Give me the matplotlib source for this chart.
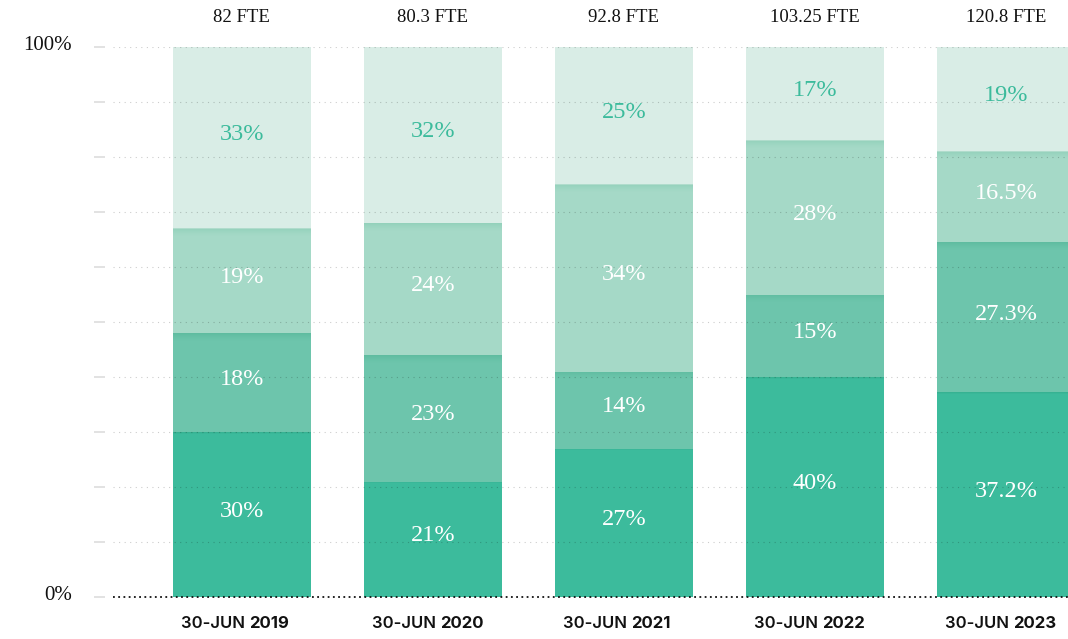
import matplotlib.pyplot as plt
from matplotlib.transforms import blended_transform_factory, offset_copy

# -----------------------------
# Data
# -----------------------------
dates = ["30-JUN", "30-JUN", "30-JUN", "30-JUN", "30-JUN"]
years = ["2019", "2020", "2021", "2022", "2023"]
fte = ["82 FTE", "80.3 FTE", "92.8 FTE", "103.25 FTE", "120.8 FTE"]

# shares per group, stacked bottom to top
seg1 = [30, 21, 27, 40, 37.2]
seg2 = [18, 23, 14, 15, 27.3]
seg3 = [19, 24, 34, 28, 16.5]
seg4 = [33, 32, 25, 17, 19]

seg_labels = [
    ["30%", "21%", "27%", "40%", "37.2%"],
    ["18%", "23%", "14%", "15%", "27.3%"],
    ["19%", "24%", "34%", "28%", "16.5%"],
    ["33%", "32%", "25%", "17%", "19%"],
]

colors = ["#3cbb9c", "#6dc5ac", "#a5d9c7", "#d9ede6"]
shade = ["#2fa886", "#4fb393", "#7fc8ae"]
label_colors = ["white", "white", "white", "#3cbb9c"]

serif = "Liberation Serif"
sans = "Inter"

# -----------------------------
# Figure
# -----------------------------
fig = plt.figure(figsize=(10.68, 6.39), dpi=100)
ax = fig.add_axes([113 / 1068, 42 / 639, 955 / 1068, 550 / 639])

x = list(range(len(years)))
width = 0.723
segments = [seg1, seg2, seg3, seg4]
bottoms = [0] * len(x)

for i, seg in enumerate(segments):
    ax.bar(x, seg, width, bottom=bottoms, color=colors[i], zorder=2, linewidth=0)
    # darker band fading down from the top of each lower segment
    if i < 3:
        tops = [b + s for b, s in zip(bottoms, seg)]
        steps = 8 if i > 0 else 2
        for k in range(steps):
            a = 0.45 * (1 - k / steps) ** 1.5
            ax.bar(x, 0.18, width, bottom=[t - 0.18 * (k + 1) for t in tops],
                   color=shade[i], alpha=a, zorder=2.1, linewidth=0)
    for j in x:
        ax.text(j, bottoms[j] + seg[j] / 2 + 0.6, seg_labels[i][j], ha="center", va="center",
                fontsize=17.5, color=label_colors[i], family=serif, zorder=4)
    bottoms = [b + s for b, s in zip(bottoms, seg)]

# dotted gridlines at every 10%
for v in range(10, 101, 10):
    ax.axhline(v, color="black", alpha=0.2, lw=0.8, ls=(0, (1, 4)), zorder=3)
ax.axhline(0, color="#111111", lw=1.3, ls=(0, (1, 1.9)), zorder=5, clip_on=False)

# short tick dashes left of the plot
trans = blended_transform_factory(ax.transAxes, ax.transData)
for v in range(0, 101, 10):
    ax.plot([-0.0199, -0.0084], [v, v], color="#dddddd", lw=1.2, transform=trans,
            clip_on=False, solid_capstyle="butt")

ax.text(-0.043, 100.3, "100%", ha="right", va="center", fontsize=15, family=serif,
        color="#111111", transform=trans)
ax.text(-0.043, 0.3, "0%", ha="right", va="center", fontsize=15, family=serif,
        color="#111111", transform=trans)

# headcount above each bar
for j in x:
    ax.text(j, 105.3, fte[j], ha="center", va="center", fontsize=13.5, family=serif,
            color="#111111", clip_on=False)

# two-weight date labels under each bar
for j in x:
    left = offset_copy(ax.transData, fig=fig, x=5.5, y=0, units="points")
    ax.text(j, -4.8, dates[j] + " ", ha="right", va="center", fontsize=12, family=sans,
            weight="semibold", color="#111111", transform=left, clip_on=False)
    ax.text(j, -4.8, years[j], ha="left", va="center", fontsize=12, family=sans,
            weight="bold", color="#111111", transform=left, clip_on=False)

ax.set_xlim(-0.675, 4.325)
ax.set_ylim(0, 100)
ax.axis("off")

fig.savefig("out.png", dpi=100)
